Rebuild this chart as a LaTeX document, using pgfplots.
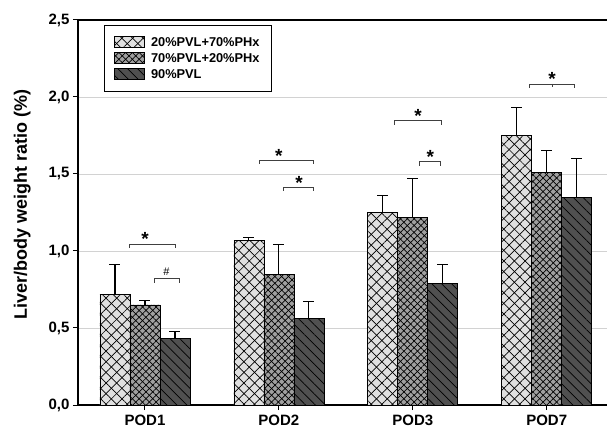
\documentclass[border=0pt]{standalone}
\usepackage{pgfplots}
\pgfplotsset{compat=1.18}
\usepackage{fontspec}
\setmainfont{Liberation Sans}
\usetikzlibrary{patterns.meta}
\definecolor{cA}{RGB}{224,224,224}
\definecolor{cB}{RGB}{160,160,160}
\definecolor{cC}{RGB}{80,80,80}
\tikzset{star/.style={black, font=\bfseries\fontsize{19}{19}\selectfont, inner sep=0pt, anchor=center}}
\begin{document}
\begin{tikzpicture}
\begin{axis}[
  at={(0,0)}, anchor=south west,
  scale only axis, width=529pt, height=385pt,
  xmin=-0.5, xmax=3.45, ymin=0, ymax=2.5,
  axis lines*=left,
  axis line style={line width=1.2pt},
  xtick={0,1,2,3}, xticklabels={POD1,POD2,POD3,POD7},
  ytick={0,0.5,1,1.5,2,2.5},
  tick align=outside, tick style={black, line width=1pt}, major tick length=5pt,
  ymajorgrids, grid style={gray!35, line width=0.8pt},
  /pgf/number format/assume math mode=true,
  /pgf/number format/use comma, /pgf/number format/fixed, /pgf/number format/fixed zerofill, /pgf/number format/precision=1,
  xticklabel style={font=\bfseries\fontsize{15}{17}\selectfont, yshift=-1pt},
  yticklabel style={font=\bfseries\fontsize{15}{17}\selectfont},
  ylabel={Liver/body weight ratio (\%)},
  ylabel style={font=\bfseries\fontsize{18}{20}\selectfont, yshift=11pt, xshift=8pt},
  ybar=0pt, bar width=0.224,
  clip=false,
  legend style={at={(0.049,0.987)}, anchor=north west, draw=black, line width=0.8pt, font=\bfseries\fontsize{12.8}{15}\selectfont, inner sep=10pt, row sep=1.5pt, cells={anchor=west},
    /tikz/every odd column/.append style={column sep=4pt}},
  legend image code/.code={\draw[#1] (0pt,-5pt) rectangle (30pt,6pt);},
  error bars/y dir=plus, error bars/y explicit,
  error bars/error bar style={black, line width=1.1pt},
  error bars/error mark options={rotate=90, mark size=5.5pt, black, line width=1.1pt},
]
\addplot[bar shift=-0.224, draw=black, line width=0.7pt, fill=cA,
  postaction={pattern={Lines[angle=45,distance=7.5pt,line width=0.7pt]}},
  postaction={pattern={Lines[angle=-45,distance=7.5pt,line width=0.7pt]}}]
  table[x=x, y=y, y error=e] {
  x y e
  0 0.72 0.19
  1 1.07 0.02
  2 1.25 0.11
  3 1.75 0.18
  };
\addlegendentry{20\%PVL+70\%PHx}
\addplot[bar shift=0, draw=black, line width=0.7pt, fill=cB,
  postaction={pattern={Lines[angle=45,distance=4.8pt,line width=0.7pt]}},
  postaction={pattern={Lines[angle=-45,distance=4.8pt,line width=0.7pt]}}]
  table[x=x, y=y, y error=e] {
  x y e
  0 0.65 0.03
  1 0.85 0.19
  2 1.22 0.25
  3 1.51 0.14
  };
\addlegendentry{70\%PVL+20\%PHx}
\addplot[bar shift=0.224, draw=black, line width=0.7pt, fill=cC,
  postaction={pattern={Lines[angle=-45,distance=7pt,line width=0.7pt]}}]
  table[x=x, y=y, y error=e] {
  x y e
  0 0.43 0.05
  1 0.56 0.11
  2 0.79 0.12
  3 1.35 0.25
  };
\addlegendentry{90\%PVL}
\draw[black, line width=1.2pt] (axis cs:-0.5,2.5) -- (axis cs:3.45,2.5);
% significance brackets
\begin{scope}[gray!50!black, line width=0.8pt]
\draw (axis cs:-0.119,1.02) -- (axis cs:-0.119,1.045) -- (axis cs:0.231,1.045) -- (axis cs:0.231,1.02);
\node[star] at (axis cs:0.0,1.075) {*};
\draw (axis cs:0.067,0.795) -- (axis cs:0.067,0.82) -- (axis cs:0.254,0.82) -- (axis cs:0.254,0.795);
\node[black, font=\fontsize{11}{11}\selectfont, inner sep=0pt] at (axis cs:0.16,0.865) {\#};
\draw (axis cs:0.851,1.565) -- (axis cs:0.851,1.59) -- (axis cs:1.261,1.59) -- (axis cs:1.261,1.565);
\node[star] at (axis cs:1.0,1.62) {*};
\draw (axis cs:1.037,1.39) -- (axis cs:1.037,1.415) -- (axis cs:1.261,1.415) -- (axis cs:1.261,1.39);
\node[star] at (axis cs:1.15,1.445) {*};
\draw (axis cs:1.866,1.82) -- (axis cs:1.866,1.846) -- (axis cs:2.214,1.846) -- (axis cs:2.214,1.82);
\node[star] at (axis cs:2.04,1.876) {*};
\draw (axis cs:2.047,1.555) -- (axis cs:2.047,1.58) -- (axis cs:2.209,1.58) -- (axis cs:2.209,1.555);
\node[star] at (axis cs:2.13,1.61) {*};
\draw (axis cs:2.873,2.06) -- (axis cs:2.873,2.085) -- (axis cs:3.209,2.085) -- (axis cs:3.209,2.06);
\draw (axis cs:3.04,2.085) -- (axis cs:3.04,2.065);
\node[star] at (axis cs:3.04,2.115) {*};
\end{scope}
\end{axis}
\pgfresetboundingbox
\path (-78pt,-31pt) rectangle (529pt,405pt);
\end{tikzpicture}
\end{document}
